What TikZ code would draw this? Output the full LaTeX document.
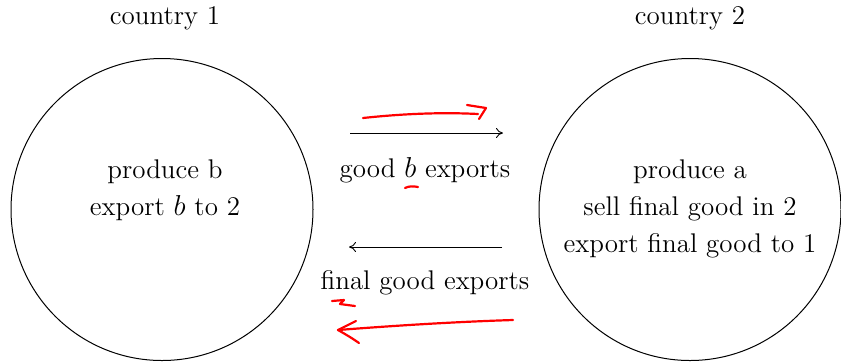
\documentclass[tikz,border=0pt]{standalone}
\usetikzlibrary{arrows.meta}
\begin{document}
\begin{tikzpicture}[x=0.5pt,y=-0.5pt,
  country/.style={circle,draw,line width=0.5pt,minimum size=151pt,inner sep=0pt},
  txt/.style={align=center,font=\fontsize{13.5}{18.5}\selectfont,inner sep=0pt},
  flow/.style={line width=0.45pt,-{To[length=3.5pt,width=5pt]}},
  ink/.style={red,line width=1.1pt,line cap=round,line join=round}]
\useasboundingbox (0,0) rectangle (841,361);
\node[country] (c1) at (162,209.5) {};
\node[country] (c2) at (690,209.5) {};
\node[txt] (t1) at (165,18) {country 1};
\node[txt] (t2) at (690,18) {country 2};
\node[txt] (l1) at (165,190.5) {produce b\\export $b$ to 2};
\node[txt] (l2) at (690,208.5) {produce a\\sell final good in 2\\export final good to 1};
\coordinate (a1s) at (350,133);
\coordinate (a1e) at (503,133);
\coordinate (a2s) at (502,247);
\coordinate (a2e) at (349,247);
\draw[flow] (a1s) -- (a1e);
\draw[flow] (a2s) -- (a2e);
\node[txt] (g1) at (425,170) {good $b$ exports};
\node[txt] (g2) at (425,283) {final good exports};
% red hand annotations
\draw[ink] (363,118) .. controls (400,114) and (440,112) .. (478,114);
\draw[ink] (467,105) -- (486,108) -- (479,119);
\draw[ink] (405,188) .. controls (409,186) and (413,186) .. (418,187);
\draw[ink] (332,301) -- (344,300) -- (340,304) -- (355,306);
\draw[ink] (513,320) .. controls (450,322) and (390,326) .. (338,330);
\draw[ink] (356,321) .. controls (348,325) and (342,328) .. (338,330) .. controls (345,334) and (352,338) .. (359,343);
\end{tikzpicture}
\end{document}
